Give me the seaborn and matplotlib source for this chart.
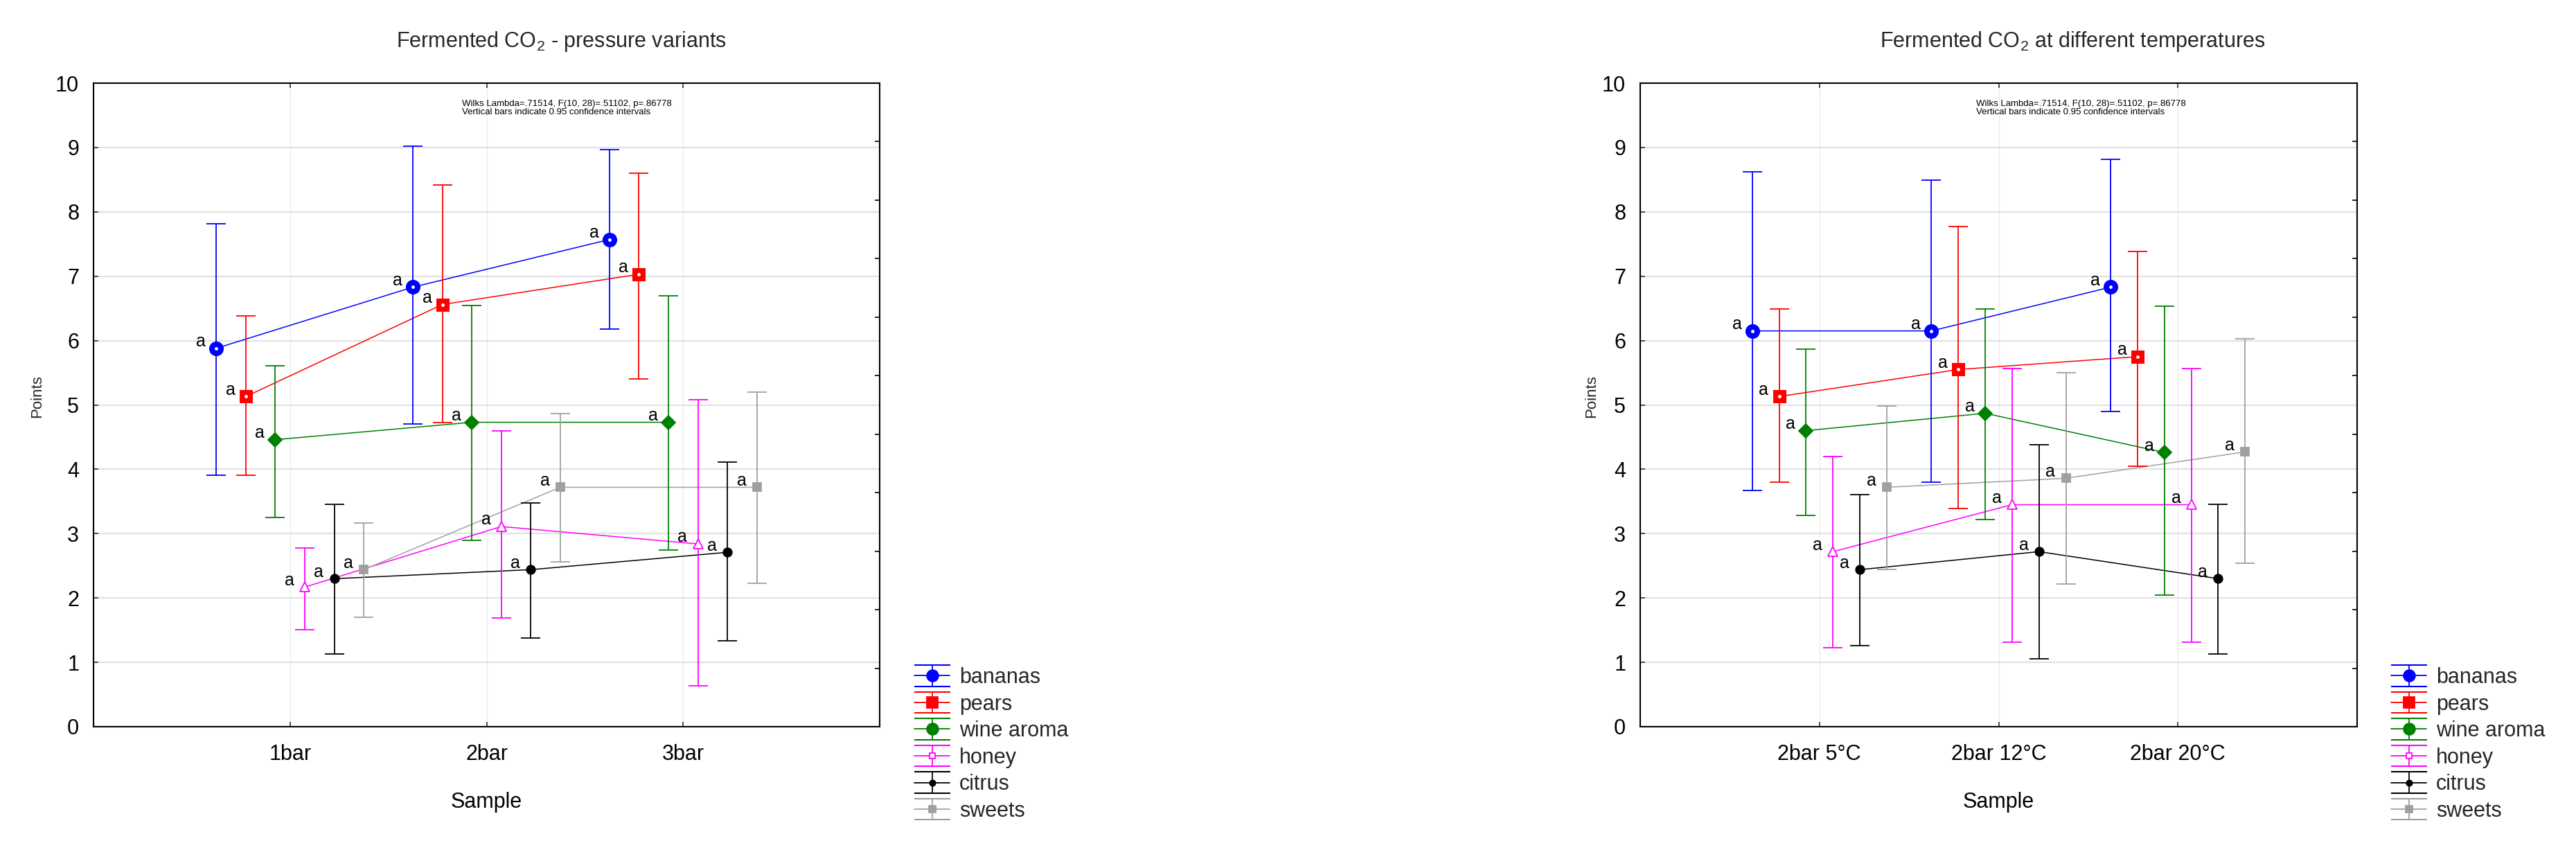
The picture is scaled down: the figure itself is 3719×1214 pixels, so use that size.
import numpy as np
import pandas as pd
import matplotlib
matplotlib.use("Agg")
import matplotlib.pyplot as plt
import seaborn as sns
from matplotlib.lines import Line2D
from matplotlib.collections import LineCollection
from matplotlib.container import ErrorbarContainer

# series and colours
series = ["bananas", "pears", "wine aroma", "honey", "citrus", "sweets"]
colors = ["#0000FF", "#FF0000", "#008000", "#FF00FF", "#000000", "#A0A0A0"]

# panel 1: pressure variants
pressure = ["1bar", "2bar", "3bar"]
p_bananas = [5.88, 6.83, 7.57]
p_bananas_lo = [3.91, 4.70, 6.18]
p_bananas_hi = [7.81, 9.02, 8.97]
p_pears = [5.13, 6.56, 7.03]
p_pears_lo = [3.91, 4.73, 5.40]
p_pears_hi = [6.38, 8.42, 8.60]
p_wine = [4.46, 4.73, 4.73]
p_wine_lo = [3.25, 2.90, 2.74]
p_wine_hi = [5.61, 6.55, 6.69]
p_honey = [2.17, 3.11, 2.84]
p_honey_lo = [1.51, 1.69, 0.63]
p_honey_hi = [2.78, 4.60, 5.08]
p_citrus = [2.30, 2.44, 2.71]
p_citrus_lo = [1.13, 1.38, 1.33]
p_citrus_hi = [3.45, 3.48, 4.11]
p_sweets = [2.44, 3.72, 3.72]
p_sweets_lo = [1.70, 2.56, 2.23]
p_sweets_hi = [3.17, 4.87, 5.20]

# panel 2: temperatures
temps = ["2bar 5°C", "2bar 12°C", "2bar 20°C"]
t_bananas = [6.15, 6.15, 6.83]
t_bananas_lo = [3.67, 3.80, 4.90]
t_bananas_hi = [8.62, 8.49, 8.82]
t_pears = [5.13, 5.55, 5.75]
t_pears_lo = [3.80, 3.39, 4.05]
t_pears_hi = [6.49, 7.77, 7.38]
t_wine = [4.60, 4.87, 4.26]
t_wine_lo = [3.28, 3.22, 2.04]
t_wine_hi = [5.87, 6.49, 6.53]
t_honey = [2.72, 3.45, 3.45]
t_honey_lo = [1.23, 1.31, 1.31]
t_honey_hi = [4.20, 5.56, 5.56]
t_citrus = [2.44, 2.72, 2.30]
t_citrus_lo = [1.26, 1.05, 1.13]
t_citrus_hi = [3.61, 4.38, 3.45]
t_sweets = [3.72, 3.86, 4.27]
t_sweets_lo = [2.44, 2.22, 2.54]
t_sweets_hi = [4.98, 5.50, 6.03]

stats_text = ("Wilks Lambda=.71514, F(10, 28)=.51102, p=.86778\n"
              "Vertical bars indicate 0.95 confidence intervals")


def long_table(cats, means, los, his):
    rows = []
    for si, name in enumerate(series):
        for ci, cat in enumerate(cats):
            rows.append({"series": name, "cat": cat,
                         "x": ci + 1 + (si - 2.5) * 0.15,
                         "mean": means[si][ci], "lo": los[si][ci], "hi": his[si][ci]})
    return pd.DataFrame(rows)


df_p = long_table(pressure,
                  [p_bananas, p_pears, p_wine, p_honey, p_citrus, p_sweets],
                  [p_bananas_lo, p_pears_lo, p_wine_lo, p_honey_lo, p_citrus_lo, p_sweets_lo],
                  [p_bananas_hi, p_pears_hi, p_wine_hi, p_honey_hi, p_citrus_hi, p_sweets_hi])
df_t = long_table(temps,
                  [t_bananas, t_pears, t_wine, t_honey, t_citrus, t_sweets],
                  [t_bananas_lo, t_pears_lo, t_wine_lo, t_honey_lo, t_citrus_lo, t_sweets_lo],
                  [t_bananas_hi, t_pears_hi, t_wine_hi, t_honey_hi, t_citrus_hi, t_sweets_hi])

palette = dict(zip(series, colors))
# marker, size, face colour, centre dot
mstyle = {
    "bananas": ("o", 13, "#0000FF", True),
    "pears": ("s", 12, "#FF0000", True),
    "wine aroma": ("D", 10, "#008000", False),
    "honey": ("^", 10, "white", False),
    "citrus": ("o", 9, "#000000", False),
    "sweets": ("s", 9, "#A0A0A0", False),
}
legmark = {
    "bananas": ("o", 12, "#0000FF"),
    "pears": ("s", 12, "#FF0000"),
    "wine aroma": ("o", 12, "#008000"),
    "honey": ("s", 6, "white"),
    "citrus": ("o", 6, "#000000"),
    "sweets": ("s", 7, "#A0A0A0"),
}

sns.set_theme(style="white")
plt.rcParams["font.family"] = ["Liberation Sans", "DejaVu Sans"]
plt.rcParams["mathtext.fontset"] = "custom"
plt.rcParams["mathtext.rm"] = "Liberation Sans"

W, H = 3719, 1214
fig = plt.figure(figsize=(W / 100, H / 100), dpi=100)
fs = 22


def draw_panel(ax, df, cats):
    ax.set_xlim(0, 4)
    ax.set_ylim(0, 10)
    ax.grid(axis="y", color="#E2E2E2", lw=1.6, zorder=0)
    ax.grid(axis="x", color="#E8E8E8", lw=0.8, zorder=0)
    ax.set_axisbelow(True)
    sns.lineplot(data=df, x="x", y="mean", hue="series", palette=palette,
                 hue_order=series, legend=False, lw=1.1, ax=ax, zorder=3)
    for name in series:
        d = df[df["series"] == name]
        c = palette[name]
        ax.errorbar(d["x"], d["mean"], yerr=[d["mean"] - d["lo"], d["hi"] - d["mean"]],
                    fmt="none", ecolor=c, elinewidth=1.3, capsize=10, capthick=1.3, zorder=4)
        m, ms, fc, dot = mstyle[name]
        ax.plot(d["x"], d["mean"], ls="none", marker=m, ms=ms, mfc=fc, mec=c,
                mew=2.2 if dot else 1.3, zorder=5)
        if dot:
            ax.plot(d["x"], d["mean"], ls="none", marker="o", ms=2.5, mfc="white",
                    mec="white", zorder=6)
        for xv, yv in zip(d["x"], d["mean"]):
            ax.annotate("a", (xv, yv), xytext=(-11, 7), textcoords="offset points",
                        ha="right", va="center", fontsize=18, color="black", zorder=7)
    ax.set_xticks([1, 2, 3])
    ax.set_xticklabels(cats)
    ax.set_yticks(range(11))
    ax.tick_params(axis="both", direction="in", length=5, width=1.2, color="#333333",
                   labelsize=fs, labelcolor="black")
    ax.tick_params(axis="x", top=True, bottom=True, pad=18)
    ax.tick_params(axis="y", left=True, right=False, pad=15)
    ax.set_xlabel("Sample", fontsize=fs, labelpad=28, color="black")
    ax.set_ylabel("")
    for s in ax.spines.values():
        s.set_color("black")
        s.set_linewidth(1.5)
        s.set_visible(True)
    ax.text(0.469, 0.974, stats_text, transform=ax.transAxes, fontsize=9.5,
            va="top", ha="left", linespacing=0.95, color="black")
    ax2 = ax.twinx()
    ax2.set_ylim(0, 11)
    ax2.set_yticks(range(12))
    ax2.set_yticklabels([])
    ax2.tick_params(axis="y", direction="in", length=5, width=1.2, color="black")
    ax2.grid(False)
    for s in ax2.spines.values():
        s.set_visible(False)


def legend_handles():
    hs = []
    for name in series:
        c = palette[name]
        m, ms, fc = legmark[name]
        pl = Line2D([], [], color=c, lw=1.3, marker=m, ms=ms, mfc=fc, mec=c, mew=1.3)
        caps = (Line2D([], [], color=c, marker="_", ms=37, mew=1.5, ls="none"),
                Line2D([], [], color=c, marker="_", ms=37, mew=1.5, ls="none"))
        bars = (LineCollection([], colors=c, linewidths=1.3),)
        hs.append(ErrorbarContainer((pl, caps, bars), has_xerr=False, has_yerr=True,
                                    label=name))
    return hs


axL = fig.add_axes([135 / W, 1 - 1049 / H, 1135 / W, 929 / H])
draw_panel(axL, df_p, pressure)
axR = fig.add_axes([2368 / W, 1 - 1049 / H, 1035 / W, 929 / H])
draw_panel(axR, df_t, temps)

fig.text(810 / W, 1 - 60 / H, "Fermented CO$_2$ - pressure variants", fontsize=fs,
         ha="center", va="center")
fig.text(2992 / W, 1 - 60 / H, "Fermented CO$_2$ at different temperatures", fontsize=fs,
         ha="center", va="center")
fig.text(54 / W, 1 - 572 / H, "Points", rotation=90, fontsize=16, ha="center", va="center")
fig.text(2298 / W, 1 - 572 / H, "Points", rotation=90, fontsize=16, ha="center", va="center")

for xleft in (1320, 3452):
    fig.legend(handles=legend_handles(), labels=series, loc="upper left",
               bbox_to_anchor=(xleft / W, 1 - 963 / H), frameon=False, fontsize=fs,
               borderpad=0, borderaxespad=0, handlelength=1.67, handletextpad=0.46,
               labelspacing=0.28)

fig.savefig("out.png", dpi=100)
